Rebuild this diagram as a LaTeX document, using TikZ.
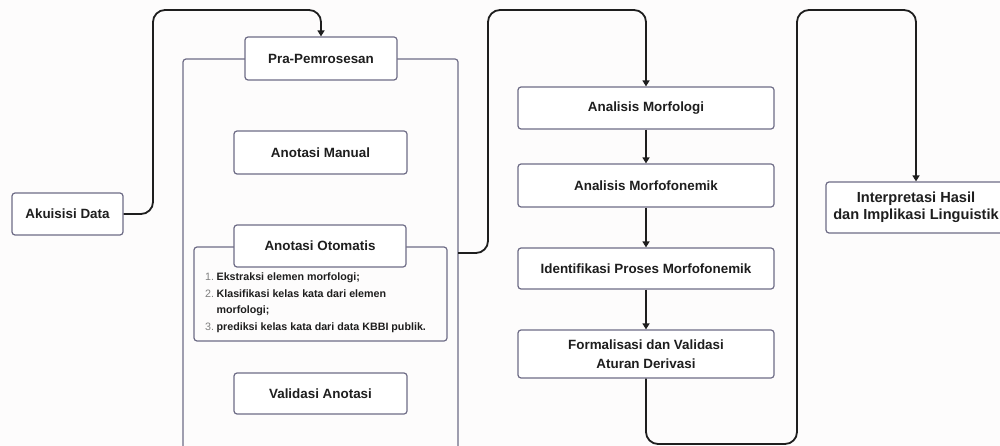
\documentclass[tikz,border=0pt]{standalone}
\usepackage{fontspec}
\setmainfont{Liberation Sans}
\usetikzlibrary{arrows.meta}
\definecolor{boxline}{HTML}{6E6C86}
\definecolor{ink}{HTML}{1E1E1E}
\definecolor{bg}{HTML}{FDFCFC}
\tikzset{
  box/.style={draw=boxline, line width=1.2pt, rounded corners=3pt, fill=white,
    inner sep=0pt, align=center, text=ink, font=\fontsize{13.4}{19}\selectfont\bfseries},
  frame/.style={draw=boxline, line width=1.2pt, rounded corners=3pt},
  conn/.style={draw=ink, line width=1.8pt, rounded corners=12pt,
    -{Triangle[length=6pt,width=7pt]}},
}
\begin{document}
\begin{tikzpicture}[x=1pt,y=-1pt]
\fill[bg] (0,0) rectangle (1000,446);
\clip (0,0) rectangle (1000,446);
\useasboundingbox (0,0) rectangle (1000,446);

% containers
\draw[frame] (183,59) rectangle (458,480);
\draw[frame] (194,247) rectangle (447,341);

% nodes
\node[box, minimum width=111pt, minimum height=42pt] (akuisisi) at (67.5,214) {Akuisisi Data};
\node[box, minimum width=152pt, minimum height=43pt] (pra) at (321,58.5) {Pra-Pemrosesan};
\node[box, minimum width=173pt, minimum height=43pt] (manual) at (320.5,152.5) {Anotasi Manual};
\node[box, minimum width=172pt, minimum height=42pt] (otomatis) at (320,246) {Anotasi Otomatis};
\node[anchor=west, inner sep=0pt, text=ink, font=\fontsize{10.7}{16.6}\selectfont\bfseries] (otolist) at (205,302)
  {\begin{tabular}{@{}r@{\hspace{2.5pt}}l@{}}
   {\mdseries\color{gray}1.} & Ekstraksi elemen morfologi;\\
   {\mdseries\color{gray}2.} & Klasifikasi kelas kata dari elemen\\
    & morfologi;\\
   {\mdseries\color{gray}3.} & prediksi kelas kata dari data KBBI publik.
   \end{tabular}};
\node[box, minimum width=173pt, minimum height=41pt] (validasi) at (320.5,393.5) {Validasi Anotasi};

\node[box, minimum width=256pt, minimum height=42pt] (morf) at (646,108) {Analisis Morfologi};
\node[box, minimum width=256pt, minimum height=43pt] (fonem) at (646,185.5) {Analisis Morfofonemik};
\node[box, minimum width=256pt, minimum height=41pt] (ident) at (646,268.5) {Identifikasi Proses Morfofonemik};
\node[box, minimum width=256pt, minimum height=48pt] (formal) at (646,354) {Formalisasi dan Validasi\\Aturan Derivasi};
\node[box, minimum width=180pt, minimum height=51pt, font=\fontsize{14.6}{17.5}\selectfont\bfseries] (interp) at (916,207.5) {Interpretasi Hasil\\dan Implikasi Linguistik};

\coordinate (contR) at (458,253);

% connectors
\draw[conn] (akuisisi.east) -- (153,214) -- (153,10) -- (321,10) -- (pra.north);
\draw[conn] (contR) -- (488,253) -- (488,10) -- (646,10) -- (morf.north);
\draw[conn, rounded corners=0pt] (morf.south) -- (fonem.north);
\draw[conn, rounded corners=0pt] (fonem.south) -- (ident.north);
\draw[conn, rounded corners=0pt] (ident.south) -- (formal.north);
\draw[conn] (formal.south) -- (646,444) -- (797,444) -- (797,10) -- (916,10) -- (interp.north);
\end{tikzpicture}
\end{document}
